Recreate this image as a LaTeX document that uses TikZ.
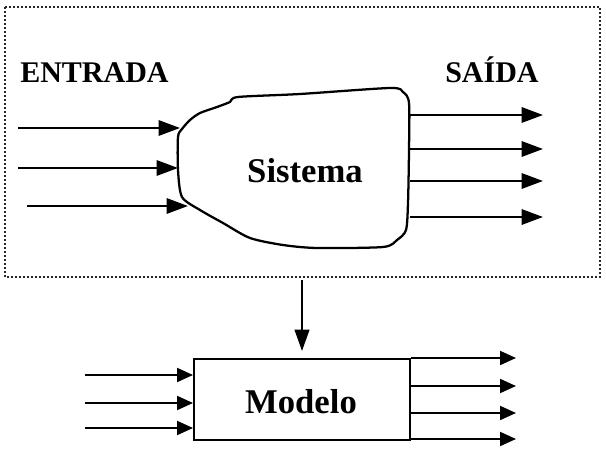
\documentclass[tikz,border=0pt]{standalone}
\usepackage{fontspec}
\setmainfont{Liberation Serif}
\usetikzlibrary{arrows.meta}
\begin{document}
\begin{tikzpicture}[x=0.75pt,y=-0.75pt,
  arr/.style={line width=1.6pt,-{Triangle[length=16pt,width=11.5pt]}},
  marr/.style={line width=1.5pt,-{Triangle[length=12pt,width=10.5pt]}},
  darr/.style={line width=1.5pt,-{Triangle[length=16pt,width=11pt]}},
  lbl/.style={font=\bfseries\fontsize{22.5}{27}\selectfont,anchor=base west,inner sep=0pt},
  big/.style={font=\bfseries\fontsize{26}{31}\selectfont,inner sep=0pt},
  frame/.style={draw=black!85,line width=1.4pt,dash pattern=on 1.4pt off 1.6pt}]
\useasboundingbox (0,0) rectangle (606,456);
% dotted frame
\draw[frame] (5,7) rectangle (600,277);
\coordinate (frameS) at (302,280);
% labels
\node[lbl] (entrada) at (20,83) {ENTRADA};
\node[lbl] (saida) at (445,83) {SAÍDA};
% blob
\draw[line width=1.7pt,line join=round] plot[smooth cycle,tension=0.45] coordinates {
 (182,129) (190,120) (200,113) (217,107) (230,102) (238,97) (300,94) (390,88)
 (403,92) (409,103) (409,150) (408,203) (406,230) (397,240) (383,247) (317,248)
 (283,245) (250,238) (223,223) (200,210) (182,197) (178,170) (178,137)};
\node[big,anchor=base] (sistema) at (305,182) {Sistema};
% input coordinates
\coordinate (i1s) at (18,128); \coordinate (i1e) at (180,128);
\coordinate (i2s) at (18,168); \coordinate (i2e) at (178,168);
\coordinate (i3s) at (27,206); \coordinate (i3e) at (188,206);
\draw[arr] (i1s) -- (i1e);
\draw[arr] (i2s) -- (i2e);
\draw[arr] (i3s) -- (i3e);
% outputs
\foreach \y [count=\k] in {115,149,181,217}{
  \coordinate (o\k s) at (410,\y);
  \coordinate (o\k e) at (543,\y);
  \draw[arr] (o\k s) -- (o\k e);
}
% model
\node[draw,line width=1.5pt,minimum width=216*0.75pt,minimum height=81*0.75pt,inner sep=0pt,anchor=north west] (modelo) at (193,358) {};
\node[big,anchor=base] (modelotxt) at (301,413) {Modelo};
\coordinate (down) at (302,351);
\draw[darr] (frameS) -- (down);
\foreach \y [count=\k] in {375,403,428}{
  \coordinate (mi\k) at (85,\y);
  \draw[marr] (mi\k) -- (mi\k -| modelo.west);
}
\foreach \y [count=\k] in {358,386,413,439}{
  \coordinate (mo\k) at (516,\y);
  \draw[marr] (mo\k -| modelo.east) -- (mo\k);
}
\end{tikzpicture}
\end{document}
